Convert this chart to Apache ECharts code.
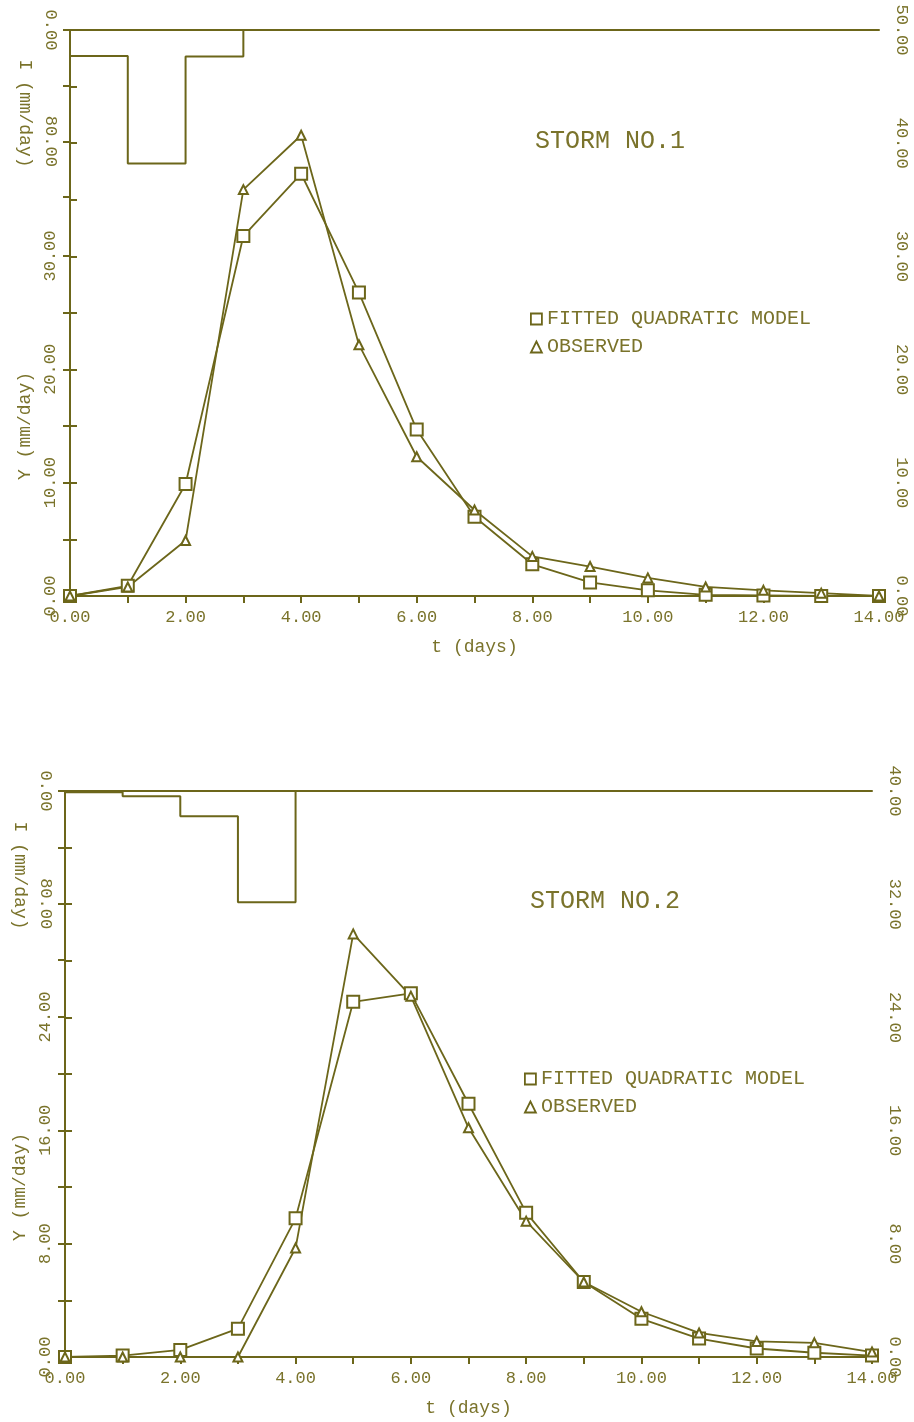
<!DOCTYPE html>
<html>
<head>
<meta charset="utf-8">
<title>Storm hydrographs</title>
<script src="https://cdn.jsdelivr.net/npm/echarts@6/dist/echarts.min.js"></script>
<style>
  html, body { margin: 0; padding: 0; background: #fff; }
  #chart { width: 914px; height: 1422px; }
</style>
</head>
<body>
<div id="chart"></div>
<script>
// days 0..14
var days = [0, 1, 2, 3, 4, 5, 6, 7, 8, 9, 10, 11, 12, 13, 14]

// storm no.1  (Y, mm/day)
var fitted1 = [0, 0.9, 9.9, 31.8, 37.3, 26.8, 14.7, 7.0, 2.8, 1.2, 0.5, 0.1, 0.05, 0, 0]
var observed1 = [0, 0.8, 4.9, 35.9, 40.7, 22.2, 12.3, 7.6, 3.5, 2.6, 1.6, 0.8, 0.5, 0.25, 0]
// rainfall I (mm/day), value held from each start day
var rainStart1 = [0, 1, 2, 3]
var rain1 = [18.7, 96, 19, 0]

// storm no.2
var fitted2 = [0, 0.1, 0.5, 2.0, 9.8, 25.1, 25.7, 17.9, 10.2, 5.3, 2.7, 1.3, 0.6, 0.3, 0.1]
var observed2 = [0, 0, 0, 0, 7.7, 29.9, 25.5, 16.2, 9.6, 5.3, 3.2, 1.7, 1.1, 1.0, 0.35]
var rainStart2 = [0, 1, 2, 3, 4]
var rain2 = [0.8, 3.8, 18, 79, 0]

// tick labels
var xLabels = [0, 2, 4, 6, 8, 10, 12, 14]
var yLabels1 = [0, 10, 20, 30, 40, 50]
var yLabels2 = [0, 8, 16, 24, 32, 40]
var rainLabels = [0, 80]

var C = '#6c661a'
var T = '#7a732b'
var FONT = 'Liberation Mono'

function labelsFrom(list) {
  return function (v) {
    return list.indexOf(v) >= 0 ? v.toFixed(2) : ''
  }
}

function pairs(xs, ys) {
  return xs.map(function (x, i) {
    return [x, ys[i]]
  })
}

var axisLine = { show: true, lineStyle: { color: C, width: 2 } }
var axisTick = { show: true, length: 7, lineStyle: { color: C, width: 2 } }
var tickFont = { color: T, fontFamily: FONT, fontSize: 17 }
var nameFont = { color: T, fontFamily: FONT, fontSize: 18 }

var option = {
  backgroundColor: '#fff',
  animation: false,
  title: [],
  legend: [],
  grid: [],
  xAxis: [],
  yAxis: [],
  series: []
}

function addStorm(s) {
  var g = option.grid.length
  var w = s.right - s.left
  // main plot area (right axis + curves)
  option.grid.push({ left: s.left, top: s.top, width: w, height: s.base - s.top })
  // left Y axis segment
  option.grid.push({ left: s.left, top: s.yTop, width: w, height: s.base - s.yTop })
  // rainfall area (inverted)
  option.grid.push({ left: s.left, top: s.top, width: w, height: s.rainBottom - s.top })

  option.xAxis.push({
    gridIndex: g, type: 'value', min: 0, max: 14, interval: 1,
    axisLine: axisLine, axisTick: axisTick, splitLine: { show: false },
    axisLabel: Object.assign({ formatter: labelsFrom(xLabels), margin: 13 }, tickFont),
    name: 't (days)', nameLocation: 'middle', nameGap: 42,
    nameTextStyle: nameFont
  })
  option.xAxis.push({ gridIndex: g + 1, type: 'value', min: 0, max: 14, show: false })
  option.xAxis.push({
    gridIndex: g + 2, type: 'value', min: 0, max: 14, position: 'top',
    axisLine: axisLine, axisTick: { show: false }, axisLabel: { show: false }, splitLine: { show: false }
  })

  option.yAxis.push({
    gridIndex: g, type: 'value', position: 'right', min: 0, max: s.yMax, interval: s.yMax / 10,
    axisLine: axisLine, axisTick: axisTick, splitLine: { show: false },
    axisLabel: Object.assign({ formatter: labelsFrom(s.yLabels), rotate: -90, margin: 14 }, tickFont)
  })
  option.yAxis.push({
    gridIndex: g + 1, type: 'value', position: 'left', min: 0, max: s.yLeftMax, interval: s.yMax / 10,
    axisLine: axisLine, axisTick: axisTick, splitLine: { show: false },
    axisLabel: Object.assign({ formatter: labelsFrom(s.yLabels), rotate: 90, margin: 11 }, tickFont),
    name: 'Y (mm/day)', nameLocation: 'middle', nameRotate: 90, nameGap: 34,
    nameTextStyle: nameFont
  })
  option.yAxis.push({
    gridIndex: g + 2, type: 'value', position: 'left', inverse: true, min: 0, max: 120, interval: 40,
    axisLine: axisLine, axisTick: axisTick, splitLine: { show: false },
    axisLabel: Object.assign({ formatter: labelsFrom(rainLabels), rotate: -90, margin: 11 }, tickFont),
    name: 'I (mm/day)', nameLocation: 'middle', nameRotate: -90, nameGap: 36,
    nameTextStyle: nameFont
  })

  option.series.push({
    name: 'I', type: 'line', xAxisIndex: g + 2, yAxisIndex: g + 2,
    step: 'end', showSymbol: false, silent: true,
    lineStyle: { color: C, width: 2 },
    data: pairs(s.rainStart, s.rain)
  })
  option.series.push({
    name: 'FITTED QUADRATIC MODEL', type: 'line', xAxisIndex: g, yAxisIndex: g,
    symbol: 'emptyRect', symbolSize: 12,
    lineStyle: { color: C, width: 1.8 }, itemStyle: { color: C, borderWidth: 1.8 },
    data: pairs(days, s.fitted)
  })
  option.series.push({
    name: 'OBSERVED', type: 'line', xAxisIndex: g, yAxisIndex: g,
    symbol: 'emptyTriangle', symbolSize: 9,
    lineStyle: { color: C, width: 1.8 }, itemStyle: { color: C, borderWidth: 1.8 },
    data: pairs(days, s.observed)
  })

  option.title.push({
    text: s.title, left: s.titleX, top: s.titleY,
    textStyle: { color: T, fontFamily: FONT, fontSize: 25, fontWeight: 'normal' }
  })
  option.legend.push({
    left: s.legendX, top: s.legendY, orient: 'vertical',
    itemWidth: 11, itemHeight: 11, itemGap: 8, itemTextGap: 17,
    textStyle: { color: T, fontFamily: FONT, fontSize: 20 },
    itemStyle: { color: '#fff', borderColor: C, borderWidth: 1.8 },
    data: [
      { name: 'FITTED QUADRATIC MODEL', icon: 'rect' },
      { name: 'OBSERVED', icon: 'triangle' }
    ]
  })
}

addStorm({
  left: 70, right: 879, top: 30, base: 596, yTop: 256, rainBottom: 197,
  yMax: 50, yLeftMax: 30, yLabels: yLabels1,
  fitted: fitted1, observed: observed1, rainStart: rainStart1, rain: rain1,
  title: 'STORM NO.1', titleX: 530, titleY: 124, legendX: 525, legendY: 304
})
addStorm({
  left: 65, right: 872, top: 791, base: 1357, yTop: 1017, rainBottom: 960,
  yMax: 40, yLeftMax: 24, yLabels: yLabels2,
  fitted: fitted2, observed: observed2, rainStart: rainStart2, rain: rain2,
  title: 'STORM NO.2', titleX: 525, titleY: 884, legendX: 519, legendY: 1064
})

var chart = echarts.init(document.getElementById('chart'))
chart.setOption(option)
</script>
</body>
</html>
